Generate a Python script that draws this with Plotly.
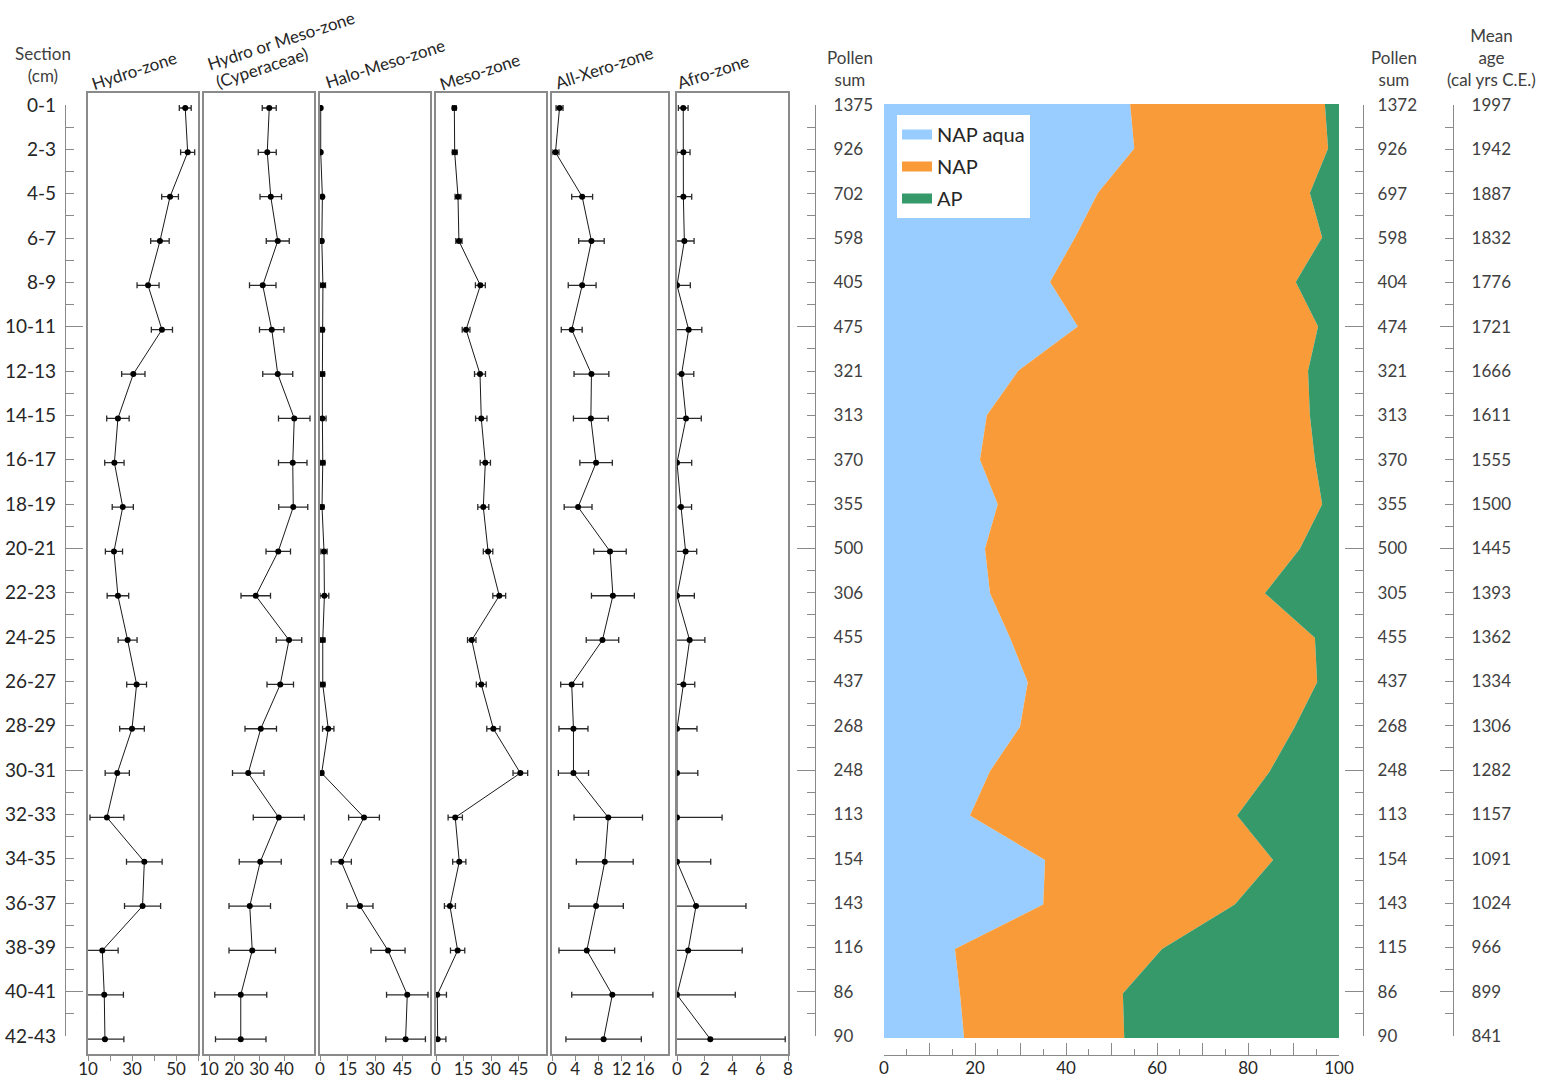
import plotly.graph_objects as go

# ---------------- data ----------------
sections = ["0-1", "2-3", "4-5", "6-7", "8-9", "10-11", "12-13", "14-15", "16-17", "18-19", "20-21",
            "22-23", "24-25", "26-27", "28-29", "30-31", "32-33", "34-35", "36-37", "38-39", "40-41", "42-43"]

hydro = [54.2, 55.3, 47.3, 42.7, 37.3, 43.6, 30.6, 23.6, 22.0, 25.8, 21.8, 23.6, 28.0, 32.1, 30.0, 23.3,
         18.6, 35.6, 34.8, 16.5, 17.4, 17.7]
hydro_err = [2.7, 3.2, 3.8, 4.2, 5.0, 4.8, 5.3, 5.1, 4.4, 4.8, 3.9, 4.9, 4.3, 4.5, 5.6, 5.5, 7.7, 8.1, 8.2,
             7.2, 8.7, 8.6]

cyper = [34.1, 33.3, 34.7, 37.5, 31.5, 35.1, 37.5, 44.1, 43.5, 43.7, 37.7, 28.7, 42.0, 38.5, 30.7, 25.7,
         37.9, 30.5, 26.3, 27.3, 22.7, 22.7]
cyper_err = [2.8, 3.6, 4.3, 4.6, 5.3, 4.9, 6.0, 6.3, 5.7, 5.8, 4.9, 5.9, 5.1, 5.3, 6.3, 6.3, 10.2, 8.4, 8.3,
             9.3, 10.4, 10.1]

halo = [0.4, 0.4, 1.3, 1.0, 1.6, 1.3, 1.3, 1.3, 1.5, 1.1, 2.2, 2.4, 1.5, 1.5, 4.5, 0.9, 24.0, 11.6, 21.8,
        37.1, 47.6, 46.7]
halo_err = [0.4, 0.4, 0.6, 0.6, 1.4, 0.9, 1.2, 2.0, 1.2, 1.0, 1.7, 2.4, 1.2, 1.2, 3.1, 1.0, 8.4, 5.5, 7.1,
            9.3, 11.3, 10.8]

meso = [10.0, 10.2, 12.0, 12.5, 24.2, 16.4, 24.0, 24.7, 26.9, 25.8, 28.4, 34.5, 19.5, 24.7, 31.3, 46.0,
        10.5, 12.7, 7.6, 11.8, 0.7, 0.9]
meso_err = [1.0, 1.3, 1.6, 1.7, 2.7, 2.1, 3.0, 3.1, 2.8, 3.0, 2.6, 3.5, 2.3, 2.7, 3.6, 4.0, 3.9, 3.6, 3.0,
            3.9, 5.0, 4.5]

xero = [1.3, 0.6, 5.2, 6.8, 5.2, 3.4, 6.8, 6.7, 7.6, 4.5, 10.0, 10.5, 8.7, 3.4, 3.7, 3.7, 9.7, 9.1, 7.6,
        6.0, 10.4, 8.9]
xero_err = [0.6, 0.6, 1.8, 2.2, 2.4, 1.8, 3.0, 3.0, 2.8, 2.4, 2.8, 3.7, 2.8, 1.9, 2.5, 2.6, 5.9, 4.9, 4.7,
            4.8, 7.0, 6.5]

afro = [0.45, 0.46, 0.46, 0.53, 0.0, 0.84, 0.33, 0.65, 0.0, 0.29, 0.62, 0.0, 0.91, 0.46, 0.0, 0.0, 0.0,
        0.0, 1.37, 0.8, 0.0, 2.4]
afro_err = [0.35, 0.48, 0.6, 0.7, 0.96, 0.95, 0.88, 1.1, 1.06, 0.76, 0.8, 1.25, 1.1, 0.82, 1.44, 1.5, 3.25,
            2.43, 3.6, 3.9, 4.2, 5.4]

pollen_sum_left = [1375, 926, 702, 598, 405, 475, 321, 313, 370, 355, 500, 306, 455, 437, 268, 248, 113,
                   154, 143, 116, 86, 90]
pollen_sum_right = [1372, 926, 697, 598, 404, 474, 321, 313, 370, 355, 500, 305, 455, 437, 268, 248, 113,
                    154, 143, 115, 86, 90]
mean_age = [1997, 1942, 1887, 1832, 1776, 1721, 1666, 1611, 1555, 1500, 1445, 1393, 1362, 1334, 1306, 1282,
            1157, 1091, 1024, 966, 899, 841]

nap_aqua = [54.1, 55.0, 47.0, 42.0, 36.5, 42.6, 29.5, 22.6, 21.1, 25.0, 22.2, 23.3, 27.7, 31.6, 29.9, 23.3,
            18.9, 35.4, 35.0, 15.6, 16.7, 17.6]
nap = [42.8, 42.6, 46.6, 54.3, 54.0, 52.8, 63.7, 71.0, 73.6, 71.3, 69.2, 60.4, 67.0, 63.6, 60.4, 61.5,
       58.7, 50.1, 42.1, 45.5, 35.8, 35.2]
ap = [3.1, 2.4, 6.4, 3.7, 9.5, 4.6, 6.8, 6.4, 5.3, 3.7, 8.6, 16.3, 5.3, 4.8, 9.7, 15.2, 22.4, 14.5, 22.9,
      38.9, 47.5, 47.2]

panel_tickvals = [[10, 30, 50], [10, 20, 30, 40], [0, 15, 30, 45], [0, 15, 30, 45], [0, 4, 8, 12, 16],
                  [0, 2, 4, 6, 8]]
area_tickvals = [0, 10, 20, 30, 40, 50, 60, 70, 80, 90, 100]
area_ticktext = ["0", "", "20", "", "40", "", "60", "", "80", "", "100"]

# ---------------- layout helpers ----------------
W, H = 1546, 1082
FONT = "Lato, 'Open Sans', sans-serif"
GRAY = "#8a8a8a"
TXT = "#262626"


def fx(px):
    return px / W


def fy(py):
    return 1 - py / H


depths = [int(s.split("-")[0]) for s in sections]
long_ticks = [d for d in depths if d % 10 == 0]

fig = go.Figure()
layout = dict(
    width=W, height=H, autosize=False,
    margin=dict(l=0, r=0, t=0, b=0, pad=0, autoexpand=False),
    paper_bgcolor="white", plot_bgcolor="white",
    font=dict(family=FONT, color=TXT),
    showlegend=True,
    annotations=[],
)

panels = [
    (hydro, hydro_err, 88, 198, [10, 60], 10),
    (cyper, cyper_err, 204, 314, [8, 52], None),
    (halo, halo_err, 320, 430, [0, 60], None),
    (meso, meso_err, 436, 546, [0, 60], None),
    (xero, xero_err, 552, 668, [0, 20], None),
    (afro, afro_err, 677, 788, [0, 8], None),
]

# left panels: depth d -> pixel 108 + 22.17 d ; frame 93..1054
PPC = 22.17
y_top_px, y_bot_px = 93, 1054
y_rng = [(y_bot_px - 108) / PPC, (y_top_px - 108) / PPC]

for i, (vals, errs, l, r, rng, minor_dt) in enumerate(panels, start=1):
    fig.add_trace(go.Scatter(
        x=vals, y=depths, xaxis=f"x{i}", yaxis=f"y{i}", mode="lines+markers",
        line=dict(color="#1a1a1a", width=1),
        marker=dict(color="black", size=6),
        error_x=dict(type="data", array=errs, color="#2a2a2a", thickness=1.3, width=3),
        showlegend=False, hoverinfo="skip", cliponaxis=True,
    ))
    xa = dict(domain=[fx(l), fx(r)], range=rng, anchor=f"y{i}", showline=True, mirror=True,
              linecolor=GRAY, linewidth=1.5, ticks="outside", ticklen=5, tickcolor=GRAY,
              tickvals=panel_tickvals[i - 1], showgrid=False, zeroline=False,
              ticklabelstandoff=-6,
              tickfont=dict(size=17, color=TXT, family=FONT))
    if minor_dt:
        xa["minor"] = dict(ticks="outside", ticklen=5, dtick=minor_dt, tick0=rng[0], tickcolor=GRAY)
    layout[f"xaxis{i}"] = xa
    layout[f"yaxis{i}"] = dict(domain=[fy(y_bot_px), fy(y_top_px)], range=y_rng, anchor=f"x{i}",
                               showline=True, mirror=True, linecolor=GRAY, linewidth=1.5,
                               showticklabels=False, ticks="", showgrid=False, zeroline=False)

# label columns (section, pollen sums, ages)
lab_top, lab_bot = 105, 1036


def label_column(idx, x0, x1, side, texts, longlen, standoff, fsize, color):
    xa = f"x{idx}"
    ya, ya2 = f"y{idx}", f"y{idx + 1}"
    layout[f"xaxis{idx}"] = dict(domain=[fx(x0), fx(x1)], range=[0, 1], visible=False, anchor=ya)
    common = dict(domain=[fy(lab_bot), fy(lab_top)], range=[42, 0], anchor=xa, side=side,
                  showgrid=False, zeroline=False)
    layout[f"yaxis{idx}"] = dict(**common, showline=True, linecolor=GRAY, linewidth=1.3,
                                 ticks="inside", ticklen=8, tickcolor=GRAY, tickwidth=1.2,
                                 tickvals=depths, ticktext=[str(t) for t in texts],
                                 ticklabelstandoff=standoff,
                                 tickfont=dict(size=fsize, color=color, family=FONT),
                                 minor=dict(ticks="inside", ticklen=8, dtick=1, tick0=0,
                                            tickcolor=GRAY, tickwidth=1.2))
    layout[f"yaxis{idx + 1}"] = dict(**common, overlaying=ya, showline=False, ticks="inside",
                                     ticklen=longlen, tickcolor=GRAY, tickwidth=1.2,
                                     tickvals=long_ticks, showticklabels=False)
    for yy in (ya, ya2):
        fig.add_trace(go.Scatter(x=[0.5] * len(depths), y=depths, xaxis=xa, yaxis=yy, mode="markers",
                                 marker=dict(opacity=0, size=1), showlegend=False, hoverinfo="skip"))


label_column(7, 66, 86, "left", sections, 17, 5, 19, TXT)
label_column(9, 790, 815, "right", pollen_sum_left, 18, 14, 17, "#404040")
label_column(11, 1340, 1363, "right", pollen_sum_right, 18, 10, 17, "#404040")
label_column(13, 1430, 1453, "right", mean_age, 13, 14, 17, "#404040")

# stacked area panel
area_colors = {"NAP aqua": "#99CCFF", "NAP": "#F99B38", "AP": "#35996A"}
for name, vals in (("NAP aqua", nap_aqua), ("NAP", nap), ("AP", ap)):
    fig.add_trace(go.Scatter(x=vals, y=depths, xaxis="x15", yaxis="y15", stackgroup="one",
                             orientation="h", mode="none", fillcolor=area_colors[name],
                             line=dict(width=0), name=name, legendgroup=name, showlegend=False,
                             hoverinfo="skip"))
    fig.add_trace(go.Scatter(x=[None], y=[None], xaxis="x15", yaxis="y15", mode="lines",
                             line=dict(color=area_colors[name], width=16), name=name,
                             legendgroup=name, showlegend=True))

layout["xaxis15"] = dict(domain=[fx(884), fx(1339)], range=[0, 100], anchor="free", position=fy(1055),
                         showline=True, linecolor=GRAY, linewidth=1.3, ticks="inside", ticklen=12,
                         tickcolor=GRAY, tickwidth=1.2, tickvals=area_tickvals, ticktext=area_ticktext,
                         ticklabelstandoff=-3,
                         minor=dict(ticks="inside", ticklen=6, dtick=5, tick0=0, tickcolor=GRAY),
                         showgrid=False, zeroline=False, tickfont=dict(size=17, color=TXT, family=FONT))
layout["yaxis15"] = dict(domain=[fy(1038), fy(104)], range=[42, 0], anchor="x15", visible=False)

layout["legend"] = dict(x=fx(897), y=fy(115), xanchor="left", yanchor="top", bgcolor="white",
                        borderwidth=0, font=dict(size=20, color=TXT, family=FONT),
                        tracegroupgap=3, itemwidth=30)

# headers
hdr = [
    ("Hydro-zone", 134, 70),
    ("Hydro or Meso-zone", 281, 40),
    ("(Cyperaceae)", 262, 67),
    ("Halo-Meso-zone", 385, 64),
    ("Meso-zone", 480, 71),
    ("All-Xero-zone", 604, 67),
    ("Afro-zone", 713, 72),
]
for txt, cx, cy in hdr:
    layout["annotations"].append(dict(text=txt, x=fx(cx), y=fy(cy), xref="paper", yref="paper",
                                      showarrow=False, textangle=-18, xanchor="center",
                                      yanchor="middle", font=dict(size=17, color=TXT, family=FONT)))

for txt, cx, cy in (("Section<br>(cm)", 43, 65), ("Pollen<br>sum", 850, 68), ("Pollen<br>sum", 1394, 68),
                    ("Mean<br>age<br>(cal yrs C.E.)", 1491, 57)):
    layout["annotations"].append(dict(text=txt, x=fx(cx), y=fy(cy), xref="paper", yref="paper",
                                      showarrow=False, xanchor="center", yanchor="middle", align="center",
                                      font=dict(size=17, color="#404040", family=FONT)))

fig.update_layout(**layout)
fig.write_html(
    "out.html",
    config={"displayModeBar": False},
    post_script="document.body.style.margin='0';document.body.style.padding='0';"
                "document.documentElement.style.overflow='hidden';",
)
